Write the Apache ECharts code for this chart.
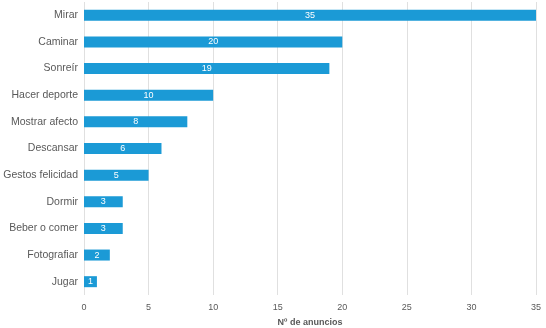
<!DOCTYPE html>
<html>
<head>
<meta charset="utf-8">
<style>
    html, body { margin: 0; padding: 0; background: #fff; }
    #chart { width: 546px; height: 328px; }
</style>
<script src="https://cdn.jsdelivr.net/npm/echarts@6/dist/echarts.min.js"></script>
</head>
<body>
<div id="chart"></div>
<script>
    // categorias de arriba a abajo
    var categorias = ['Mirar', 'Caminar', 'Sonreír', 'Hacer deporte', 'Mostrar afecto', 'Descansar',
        'Gestos felicidad', 'Dormir', 'Beber o comer', 'Fotografiar', 'Jugar'];
    var anuncios = [35, 20, 19, 10, 8, 6, 5, 3, 3, 2, 1];
    var ejeMin = 0, ejeMax = 35, ejePaso = 5;
    var tituloEje = 'Nº de anuncios';

    var myChart = echarts.init(document.getElementById('chart'));
    var option = {
        animation: false,
        textStyle: { fontFamily: 'Liberation Sans, Arial, sans-serif' },
        grid: { left: 84, right: 10, top: 2, bottom: 33, containLabel: false, outerBoundsMode: 'none' },
        xAxis: {
            type: 'value',
            min: ejeMin, max: ejeMax, interval: ejePaso,
            name: tituloEje,
            nameLocation: 'middle',
            nameGap: 23,
            nameTextStyle: { color: '#595959', fontSize: 9, fontWeight: 'bold' },
            axisLine: { show: false },
            axisTick: { show: false },
            axisLabel: { color: '#595959', fontSize: 9, margin: 8 },
            splitLine: { show: true, lineStyle: { color: '#e0e0e0', width: 1 } }
        },
        yAxis: {
            type: 'category',
            inverse: true,
            data: categorias,
            axisLine: { show: false },
            axisTick: { show: false },
            axisLabel: { color: '#595959', fontSize: 10.5, margin: 6 }
        },
        series: [{
            type: 'bar',
            data: anuncios,
            barWidth: 11,
            itemStyle: { color: '#1b9ad6' },
            label: {
                show: true,
                position: 'inside',
                color: '#fff',
                fontSize: 9
            }
        }]
    };
    myChart.setOption(option);
</script>
</body>
</html>
